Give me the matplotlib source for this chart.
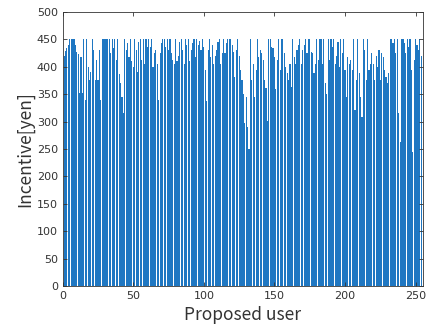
import matplotlib.pyplot as plt
import numpy as np

# incentive per proposed user (users 1..254)
incentive = [
    420, 428, 434, 440, 450, 450, 450, 450, 440, 427, 423, 353, 418, 353, 450, 339,
    450, 400, 376, 391, 450, 431, 376, 413, 376, 431,
    340, 450, 450, 450, 450, 450, 450, 425, 450, 435, 450, 413, 450, 387, 370, 345,
    315, 450, 431, 444, 418, 450, 410, 400, 450, 430, 390, 445,
    450, 413, 450, 406, 450, 437, 450, 437, 450, 400, 425, 431, 406, 340, 425, 444,
    450, 450, 437, 450, 431, 450, 425, 413, 406, 450, 410, 420, 445,
    450, 431, 406, 450, 440, 450, 410, 431, 444, 450, 418, 450, 440, 447, 431, 450,
    437, 394, 337, 431, 450, 418, 440, 406, 420, 430, 445, 450,
    406, 425, 450, 425, 444, 450, 450, 450, 440, 427, 382, 431, 450, 420, 394, 376,
    351, 297, 345, 290, 250, 450, 376, 406, 345, 394, 450, 418, 430,
    425, 413, 376, 361, 302, 450, 450, 437, 434, 418, 360, 413, 450, 394, 450, 450,
    425, 400, 388, 376, 406, 364, 450, 418, 406, 430, 440, 450,
    406, 431, 440, 450, 425, 450, 450, 427, 425, 388, 406, 450, 413, 450, 450, 406,
    450, 370, 351, 450, 413, 450, 437, 450, 406, 420, 445, 400,
    450, 425, 450, 394, 345, 418, 406, 413, 394, 450, 321, 376, 450, 388, 345, 309,
    450, 431, 376, 450, 394, 406, 425, 406, 376, 420, 400, 430,
    376, 425, 418, 394, 382, 370, 388, 450, 450, 444, 450, 425, 450, 315, 262, 450,
    450, 444, 425, 450, 437, 450, 394, 245, 413, 450, 440, 430, 450, 420,
]
users = np.arange(1, len(incentive) + 1)

fig = plt.figure(figsize=(4.36, 3.29), dpi=100)
ax = fig.add_axes([0.1438, 0.1307, 0.8257, 0.8328])

ax.bar(users, incentive, width=0.8, color="#1F77C2", linewidth=0)

ax.set_xlim(0, len(incentive) + 1)
ax.set_ylim(0, 500)
ax.set_xticks(np.arange(0, 251, 50))
ax.set_yticks(np.arange(0, 501, 50))

ax.tick_params(direction="in", top=True, right=True, length=3, width=0.6,
               colors="#333333", labelsize=8)
for s in ax.spines.values():
    s.set_linewidth(0.6)
    s.set_color("#333333")

ax.set_xlabel("Proposed user", fontsize=12.5, family=["Noto Sans CJK JP", "DejaVu Sans"],
              color="#333333", labelpad=4)
ax.set_ylabel("Incentive[yen]", fontsize=12.5, family=["Noto Sans CJK JP", "DejaVu Sans"],
              color="#333333", labelpad=2)

fig.savefig("out.png", dpi=100)
